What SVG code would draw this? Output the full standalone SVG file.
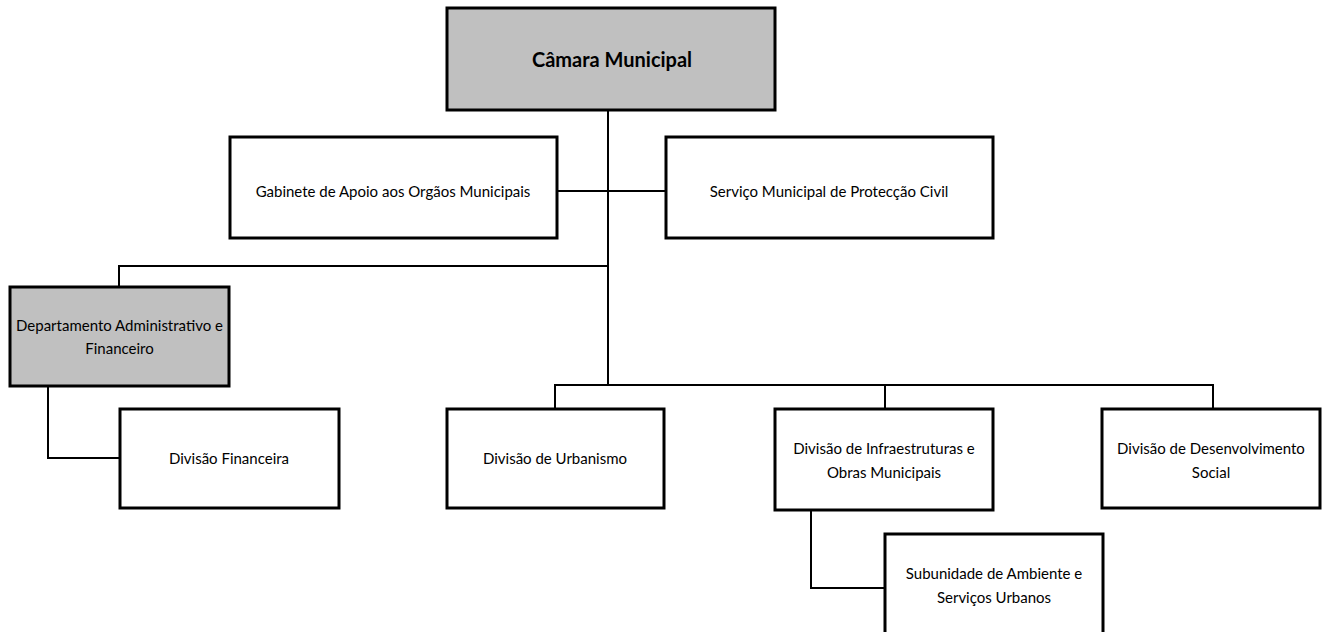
<svg xmlns="http://www.w3.org/2000/svg" width="1323" height="632" viewBox="0 0 1323 632">
<style>
.box{fill:#fff;stroke:#000;stroke-width:3}
.gray{fill:#c0c0c0}
.t{font-family:Lato,"Open Sans","Liberation Sans",sans-serif;font-size:15px;fill:#000;text-anchor:middle;dominant-baseline:central}
.b{font-weight:bold;font-size:20px}
.c{fill:none;stroke:#000;stroke-width:2}
</style>
<rect width="1323" height="632" fill="#fff"/>
<g id="connectors">
<polyline class="c" points="608,110 608,386"/>
<polyline class="c" points="557,191 666,191"/>
<polyline class="c" points="608,266 119,266 119,287"/>
<polyline class="c" points="48,386 48,458 120,458"/>
<polyline class="c" points="555,409 555,385 1213,385 1213,409"/>
<polyline class="c" points="885,385 885,409"/>
<polyline class="c" points="811,510 811,589"/>
<polyline class="c" points="811,588 885,588"/>
</g>
<g id="camara"><rect class="box gray" x="447" y="8" width="328" height="102"/><text class="t b" x="612" y="59">Câmara Municipal</text></g>
<g id="gabinete"><rect class="box" x="230" y="137" width="327" height="101"/><text class="t" x="393" y="191">Gabinete de Apoio aos Orgãos Municipais</text></g>
<g id="servico"><rect class="box" x="666" y="137" width="327" height="101"/><text class="t" x="829" y="191">Serviço Municipal de Protecção Civil</text></g>
<g id="daf"><rect class="box gray" x="10" y="287" width="219" height="99"/><text class="t" x="119.5" y="325">Departamento Administrativo e</text><text class="t" x="119.5" y="348">Financeiro</text></g>
<g id="financeira"><rect class="box" x="120" y="409" width="219" height="99"/><text class="t" x="229" y="458">Divisão Financeira</text></g>
<g id="urbanismo"><rect class="box" x="447" y="409" width="217" height="99"/><text class="t" x="555" y="458">Divisão de Urbanismo</text></g>
<g id="infra"><rect class="box" x="775" y="409" width="218" height="101"/><text class="t" x="884" y="448">Divisão de Infraestruturas e</text><text class="t" x="884" y="472">Obras Municipais</text></g>
<g id="social"><rect class="box" x="1102" y="409" width="218" height="99"/><text class="t" x="1211" y="448">Divisão de Desenvolvimento</text><text class="t" x="1211" y="472">Social</text></g>
<g id="subunidade"><rect class="box" x="885" y="534" width="218" height="100"/><text class="t" x="994" y="573">Subunidade de Ambiente e</text><text class="t" x="994" y="597">Serviços Urbanos</text></g>
</svg>
